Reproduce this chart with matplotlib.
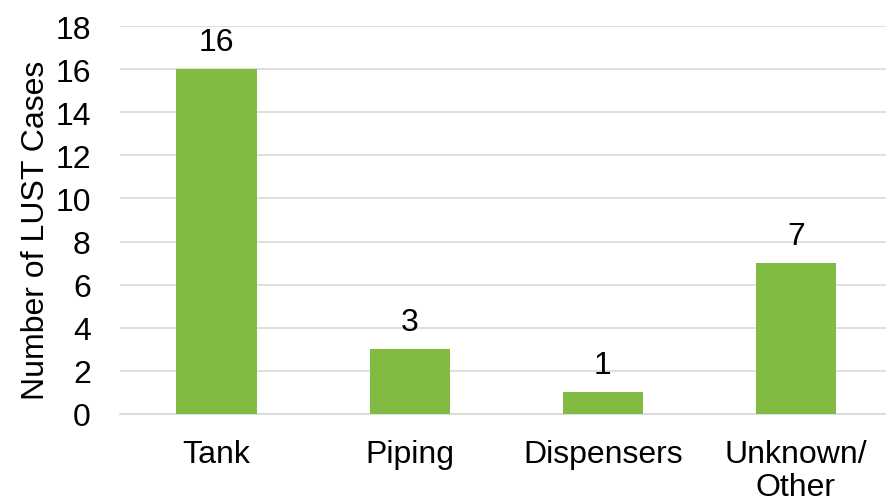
import matplotlib
matplotlib.use('Agg')
import matplotlib.pyplot as plt

categories = ['Tank', 'Piping', 'Dispensers', 'Unknown/\nOther']
cases = [16, 3, 1, 7]
y_ticks = [0, 2, 4, 6, 8, 10, 12, 14, 16, 18]

plt.rcParams['font.family'] = ['Liberation Sans', 'DejaVu Sans']
fs = 23

fig = plt.figure(figsize=(8.86, 5.02), dpi=100, facecolor='white')
ax = fig.add_axes([120 / 886, 87 / 502, 1 - 120 / 886, 388 / 502])

x = list(range(len(categories)))
ax.bar(x, cases, width=0.415, color='#82BB42', zorder=3)

for xi, v in zip(x, cases):
    ax.annotate(str(v), (xi, v), xytext=(0, 9), textcoords='offset points',
                ha='center', va='bottom', fontsize=fs, color='black')

ax.set_xlim(-0.5, 3.466)
ax.set_ylim(0, 18)
ax.set_yticks(y_ticks)
ax.set_xticks(x)
ax.set_xticklabels(categories, fontsize=fs, linespacing=1.12)
ax.tick_params(axis='y', labelsize=fs, length=0, pad=21)
ax.tick_params(axis='x', length=0, pad=18)
ax.set_ylabel('Number of LUST Cases', fontsize=fs)
ax.yaxis.set_label_coords(-0.09, 0.475)

ax.grid(axis='y', color='#D9D9D9', linewidth=1.2, zorder=0)
ax.set_axisbelow(True)
for side in ['top', 'right', 'left']:
    ax.spines[side].set_visible(False)
ax.spines['bottom'].set_color('#D9D9D9')
ax.spines['bottom'].set_linewidth(1.2)

plt.savefig('out.png', dpi=100, facecolor='white')
